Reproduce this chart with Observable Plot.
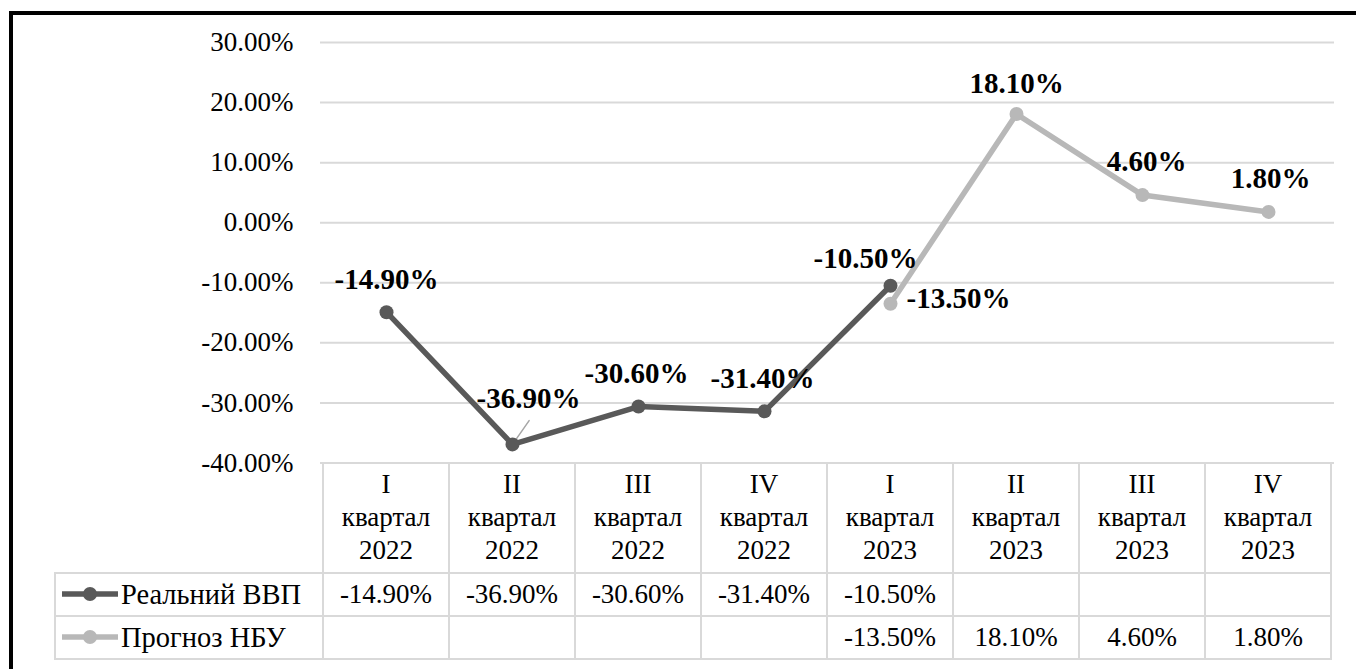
<!DOCTYPE html>
<html>
<head>
<meta charset="utf-8">
<script src="https://cdn.jsdelivr.net/npm/d3@7"></script>
<script src="https://cdn.jsdelivr.net/npm/@observablehq/plot@0.6"></script>
<style>
  html, body { margin: 0; padding: 0; background: #fff; }
  #wrap { position: relative; width: 1356px; height: 669px; overflow: hidden; font-family: "Liberation Serif", "Times New Roman", serif; color: #000; }
  #frame { position: absolute; left: 9px; top: 11px; width: 2000px; height: 2000px; border-left: 4px solid #000; border-top: 4px solid #000; pointer-events: none; }
  #chart { position: absolute; left: 0; top: 0; }
  .cell { position: absolute; box-sizing: border-box; border: 2px solid #d9d9d9; display: flex; align-items: center; justify-content: center; text-align: center; font-size: 27px; line-height: 33px; white-space: nowrap; }
  .legend { justify-content: flex-start; padding-left: 6px; font-size: 28.5px; }
  .legend svg { margin-right: 3px; }
</style>
</head>
<body>
<div id="wrap"><div id="chart"></div><div id="table"></div><div id="frame"></div></div>
<script>
// ---- data ----
const categories = ["I квартал 2022", "II квартал 2022", "III квартал 2022", "IV квартал 2022",
                    "I квартал 2023", "II квартал 2023", "III квартал 2023", "IV квартал 2023"];
const quarterLabels = ["I", "II", "III", "IV", "I", "II", "III", "IV"];
const yearLabels = ["2022", "2022", "2022", "2022", "2023", "2023", "2023", "2023"];
const seriesNames = ["Реальний ВВП", "Прогноз НБУ"];
const realGdp = [-14.9, -36.9, -30.6, -31.4, -10.5, null, null, null];
const nbuForecast = [null, null, null, null, -13.5, 18.1, 4.6, 1.8];
const yTicks = [-40, -30, -20, -10, 0, 10, 20, 30];

// label offsets (pixels) for data labels
const realLabelOffsets = [[0, -33], [16, -46], [-2, -33], [-2, -33], [-25, -27]];
const forecastLabelOffsets = [[68, -5], [0, -30], [4, -33], [2, -33]];

const seriesColors = ["#595959", "#b8b8b8"];
const fmt = v => v.toFixed(2) + "%";

const realData = categories.map((c, i) => ({cat: c, value: realGdp[i]})).filter(d => d.value != null);
const forecastData = categories.map((c, i) => ({cat: c, value: nbuForecast[i]})).filter(d => d.value != null);

const labelMarks = [];
realData.forEach((d, i) => labelMarks.push(Plot.text([d], {
  x: "cat", y: "value", text: d => fmt(d.value), dx: realLabelOffsets[i][0], dy: realLabelOffsets[i][1],
  fontSize: 29, fontWeight: "bold", fill: "#000"
})));
forecastData.forEach((d, i) => labelMarks.push(Plot.text([d], {
  x: "cat", y: "value", text: d => fmt(d.value), dx: forecastLabelOffsets[i][0], dy: forecastLabelOffsets[i][1],
  fontSize: 29, fontWeight: "bold", fill: "#000"
})));

const leader = [realData[1]];

const chart = Plot.plot({
  width: 1356,
  height: 669,
  marginLeft: 320,
  marginRight: 22,
  marginTop: 42,
  marginBottom: 206.5,
  style: {fontFamily: "Liberation Serif, Times New Roman, serif", background: "transparent", overflow: "visible", color: "#000"},
  x: {type: "point", domain: categories, padding: 0.5, axis: null},
  y: {domain: [-40, 30], axis: null},
  marks: [
    Plot.gridY(yTicks, {stroke: "#d9d9d9", strokeOpacity: 1, strokeWidth: 2}),
    Plot.axisY(yTicks, {tickSize: 0, tickPadding: 27, tickFormat: fmt, fontSize: 27, label: null, fill: "#000"}),
    Plot.vector(leader, {x: "cat", y: "value", length: 29, rotate: 35, anchor: "start", stroke: "#a6a6a6", strokeWidth: 1.5,
      shape: {draw(context, l) { context.moveTo(0, -4); context.lineTo(0, -l); }}}),
    Plot.line(realData, {x: "cat", y: "value", stroke: seriesColors[0], strokeWidth: 5.5}),
    Plot.dot(realData, {x: "cat", y: "value", r: 7, fill: seriesColors[0], stroke: null}),
    Plot.line(forecastData, {x: "cat", y: "value", stroke: seriesColors[1], strokeWidth: 5.5}),
    Plot.dot(forecastData, {x: "cat", y: "value", r: 7, fill: seriesColors[1], stroke: null}),
    ...labelMarks
  ]
});
document.getElementById("chart").appendChild(chart);

// ---- data table below the plot, aligned to the x scale ----
const xs = chart.scale("x");
const step = xs.apply(categories[1]) - xs.apply(categories[0]);
const ysc = chart.scale("y");
const tableTop = ysc.apply(-40);
const headerH = 110, rowH = 43;
const legendLeft = 55;
const plotLeft = xs.apply(categories[0]) - step / 2;
const table = document.getElementById("table");

function addCell(left, top, w, h, html, cls) {
  const div = document.createElement("div");
  div.className = "cell" + (cls ? " " + cls : "");
  div.style.left = (left - 1) + "px";
  div.style.top = (top - 1) + "px";
  div.style.width = (w + 2) + "px";
  div.style.height = (h + 2) + "px";
  div.innerHTML = html;
  table.appendChild(div);
}

categories.forEach((c, i) => {
  const x0 = xs.apply(c) - step / 2;
  addCell(x0, tableTop, step, headerH, quarterLabels[i] + "<br>квартал<br>" + yearLabels[i]);
  addCell(x0, tableTop + headerH, step, rowH, realGdp[i] == null ? "" : fmt(realGdp[i]));
  addCell(x0, tableTop + headerH + rowH, step, rowH, nbuForecast[i] == null ? "" : fmt(nbuForecast[i]));
});

function glyph(color) {
  return `<svg width="56" height="20" viewBox="0 0 56 20"><line x1="0" y1="10" x2="56" y2="10" stroke="${color}" stroke-width="5.5"/><circle cx="28" cy="10" r="7" fill="${color}"/></svg>`;
}
seriesNames.forEach((name, k) => {
  addCell(legendLeft, tableTop + headerH + k * rowH, plotLeft - legendLeft, rowH, glyph(seriesColors[k]) + name, "legend");
});
</script>
</body>
</html>
